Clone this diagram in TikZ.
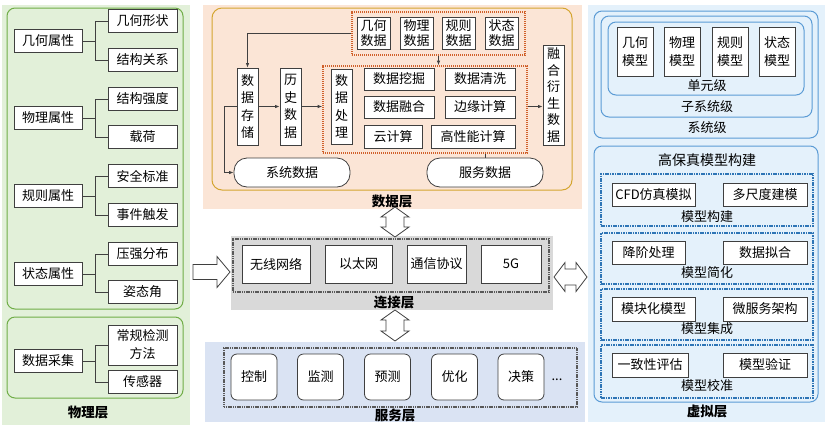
\documentclass[tikz,border=0pt]{standalone}
\usepackage{fontspec}
\setmainfont{Noto Sans CJK SC}
\usetikzlibrary{arrows.meta,calc}
\definecolor{boxc}{HTML}{3F3F3F}
\definecolor{wirec}{HTML}{404040}
\definecolor{greenbg}{HTML}{E2F0D9}
\definecolor{greenln}{HTML}{70AD47}
\definecolor{peachbg}{HTML}{FBE5D6}
\definecolor{goldln}{HTML}{D4A530}
\definecolor{orangeln}{HTML}{D0602A}
\definecolor{graybg}{HTML}{D9D9D9}
\definecolor{dotln}{HTML}{595959}
\definecolor{svcbg}{HTML}{DAE3F3}
\definecolor{vbg}{HTML}{E4F1FB}
\definecolor{blueln}{HTML}{5B9BD5}
\definecolor{bluedash}{HTML}{2E75B6}
\newcommand\fs{\fontsize{13}{15}\selectfont}
\newcommand\ftwo{\fontsize{13}{18}\selectfont}
\newcommand\fv{\fontsize{13}{17.5}\selectfont}
\newcommand\fvs{\fontsize{13}{16.5}\selectfont}
\newcommand\fb{\fontsize{13.5}{15}\selectfont\bfseries}
\newcommand\ft{\fontsize{14}{16}\selectfont}
\begin{document}
\begin{tikzpicture}[x=1pt,y=-1pt,
  bx/.style={draw=boxc,line width=0.8pt,fill=white,inner sep=0pt,font=\fs,align=center},
  bxtwo/.style={bx,font=\ftwo},
  vbx/.style={bx,font=\fv},
  rbx/.style={bx,rounded corners=6pt},
  pill/.style={bx,rounded corners=13pt},
  lay/.style={font=\fb,inner sep=0pt},
  lbl/.style={font=\fs,inner sep=0pt},
  cont/.style={inner sep=0pt},
  ogrp/.style={cont,draw=orangeln,line width=1.6pt,dash pattern=on 1.4pt off 0.6pt},
  ggrp/.style={cont,draw=dotln,line width=1.4pt,dash pattern=on 1.2pt off 0.6pt},
  bgrp/.style={cont,draw=bluedash,line width=1.2pt,dash pattern=on 1.6pt off 0.8pt},
  rbl/.style={draw=blueln,line width=1pt,rounded corners=8pt},
  rgr/.style={draw=greenln,line width=1pt,rounded corners=8pt},
  wire/.style={draw=wirec,line width=0.8pt},
  arr/.style={wire,-{Latex[length=4.5pt,width=3.5pt]}},
  blockar/.style={draw=boxc,line width=0.8pt,fill=white,line join=miter},
]
\fill[white] (0,0) rectangle (830,432);
\useasboundingbox (0,0) rectangle (830,432);

% ---------------- physical layer ----------------
\fill[greenbg] (2,5) rectangle (190,425);
\draw[rgr] (7,8) rectangle (183,309);
\draw[rgr] (7,317) rectangle (183,398);

\foreach \n/\t/\y in {ga/几何属性/41, wa/物理属性/118, ra/规则属性/196, sa/状态属性/274, da/数据采集/361}
  \node[bx,minimum width=68,minimum height=23] (\n) at (48,\y) {\t};

\foreach \n/\t/\y in {gx/几何形状/21, jg/结构关系/60, jq/结构强度/99, zh/载荷/137,
  aq/安全标准/176, sj/事件触发/215, yq/压强分布/254, zt/姿态角/292, cg/传感器/382}
  \node[bx,minimum width=69,minimum height=23] (\n) at (142.5,\y) {\t};
\node[bxtwo,minimum width=69,minimum height=40] (cj) at (142.5,345) {常规检测\\方法};

\draw[wire] (ga.east) -- ++(13,0) |- (gx.west);
\draw[wire] (ga.east) ++(13,0) |- (jg.west);
\draw[wire] (wa.east) -- ++(13,0) |- (jq.west);
\draw[wire] (wa.east) ++(13,0) |- (zh.west);
\draw[wire] (ra.east) -- ++(13,0) |- (aq.west);
\draw[wire] (ra.east) ++(13,0) |- (sj.west);
\draw[wire] (sa.east) -- ++(13,0) |- (yq.west);
\draw[wire] (sa.east) ++(13,0) |- (zt.west);
\draw[wire] (da.east) -- ++(13,0) |- (cj.west);
\draw[wire] (da.east) ++(13,0) |- (cg.west);
\node[lay] (wl) at (88,412) {物理层};

% ---------------- data layer ----------------
\fill[peachbg] (203,5) rectangle (582,209);
\draw[draw=goldln,line width=1pt,rounded corners=10pt] (212,8) rectangle (572,190);

\node[ogrp,minimum width=173,minimum height=43] (tg) at (438.5,33.5) {};
\node[bx,minimum width=33,minimum height=32] (jhd) at (373.5,33) {几何\\数据};
\node[bx,minimum width=33,minimum height=32] (wld) at (416.5,33) {物理\\数据};
\node[bx,minimum width=33,minimum height=32] (gzd) at (458.5,33) {规则\\数据};
\node[bx,minimum width=33,minimum height=32] (ztd) at (501.5,33) {状态\\数据};

\node[ogrp,minimum width=204,minimum height=87] (g2) at (425,109.5) {};
\node[vbx,minimum width=21,minimum height=75] (sjcl) at (341.5,106.5) {数\\据\\处\\理};
\node[bx,minimum width=70,minimum height=22] (wj) at (399,79) {数据挖掘};
\node[bx,minimum width=70,minimum height=22] (qx) at (480,79) {数据清洗};
\node[bx,minimum width=70,minimum height=22] (rh) at (399,107) {数据融合};
\node[bx,minimum width=70,minimum height=22] (by) at (480,107) {边缘计算};
\node[bx,minimum width=58,minimum height=23] (yj) at (393,136.5) {云计算};
\node[bx,minimum width=84,minimum height=23] (gx2) at (473,136.5) {高性能计算};

\node[vbx,minimum width=21,minimum height=77] (ds) at (247.5,106.5) {数\\据\\存\\储};
\node[vbx,minimum width=21,minimum height=77] (hs) at (290.5,106.5) {历\\史\\数\\据};
\node[bx,font=\fvs,minimum width=21,minimum height=100] (rs) at (553.5,95) {融\\合\\衍\\生\\数\\据};
\node[pill,minimum width=116,minimum height=29] (sys) at (292,172.5) {系统数据};
\node[pill,minimum width=116,minimum height=29] (fw) at (485,172.5) {服务数据};

\draw[arr] (tg.west) -| (ds.north);
\draw[arr] (tg.south) -- (tg.south |- g2.north);
\draw[arr] (ds.east) -- (hs.west);
\draw[arr] (hs.east) -- (hs.east -| g2.west);
\draw[arr] (ds.west) -- ++(-12,0) |- (sys.west);
\draw[wire] (g2.south -| fw.north) -- (fw.north);
\draw[arr] (hs.east -| g2.east) -- (hs.east -| rs.west);
\node[lay] (dl) at (392,201) {数据层};

% ---------------- connection layer ----------------
\fill[graybg] (231,236) rectangle (553,310);
\node[ggrp,minimum width=316,minimum height=53] (cg2) at (391,265.5) {};
\node[bx,minimum width=68,minimum height=38] (wx) at (276,264) {无线网络};
\node[bx,minimum width=67,minimum height=38] (ytw) at (358.5,264) {以太网};
\node[bx,minimum width=59,minimum height=38] (tx) at (436.5,264) {通信协议};
\node[bx,minimum width=60,minimum height=38] (g5) at (511,264) {5G};
\node[lay] (cl) at (394,302) {连接层};

% ---------------- service layer ----------------
\fill[svcbg] (205,342) rectangle (585,422);
\node[ggrp,minimum width=353,minimum height=59] (sg) at (400.5,377.5) {};
\node[rbx,minimum width=46,minimum height=46] (kz) at (254,377) {控制};
\node[rbx,minimum width=46,minimum height=46] (jc) at (320.5,377) {监测};
\node[rbx,minimum width=46,minimum height=46] (yc) at (387.5,377) {预测};
\node[rbx,minimum width=46,minimum height=46] (yh) at (454.5,377) {优化};
\node[rbx,minimum width=46,minimum height=46] (jcc) at (521,377) {决策};
\node[lbl] (dots) at (557,380) {...};
\node[lay] (sl) at (395,415) {服务层};

% ---------------- virtual layer ----------------
\fill[vbg] (588,5) rectangle (825,422);
\draw[rbl] (594,11) rectangle (818,138);
\draw[rbl] (601,16) rectangle (812,117);
\draw[rbl] (608,22) rectangle (804,95);
\node[bxtwo,minimum width=36,minimum height=49] (jhm) at (635,51.5) {几何\\模型};
\node[bxtwo,minimum width=36,minimum height=49] (wlm) at (682,51.5) {物理\\模型};
\node[bxtwo,minimum width=36,minimum height=49] (gzm) at (730,51.5) {规则\\模型};
\node[bxtwo,minimum width=36,minimum height=49] (ztm) at (777,51.5) {状态\\模型};
\node[lbl] (dyj) at (707,86) {单元级};
\node[lbl] (zxt) at (707,107) {子系统级};
\node[lbl] (xtj) at (707,128) {系统级};

\draw[rbl] (594,146) rectangle (818,402);
\node[lbl,font=\ft] (gbz) at (707,160) {高保真模型构建};
\node[bgrp,minimum width=212,minimum height=52] (m1) at (707,200) {};
\node[bgrp,minimum width=212,minimum height=51] (m2) at (707,258.5) {};
\node[bgrp,minimum width=212,minimum height=51] (m3) at (707,314.5) {};
\node[bgrp,minimum width=212,minimum height=53] (m4) at (707,371.5) {};
\node[bx,minimum width=83,minimum height=23] (cfd) at (653.5,194.5) {CFD仿真模拟};
\node[bx,minimum width=84,minimum height=23] (dcd) at (765,194.5) {多尺度建模};
\node[bx,minimum width=73,minimum height=23] (jj) at (648.5,252.5) {降阶处理};
\node[bx,minimum width=84,minimum height=23] (nh) at (765,252.5) {数据拟合};
\node[bx,minimum width=83,minimum height=24] (mk) at (653.5,309) {模块化模型};
\node[bx,minimum width=84,minimum height=24] (wfw) at (765,309) {微服务架构};
\node[bx,minimum width=76,minimum height=24] (yz) at (650,365) {一致性评估};
\node[bx,minimum width=84,minimum height=24] (yzm) at (765,365) {模型验证};
\node[lbl] (l1) at (707,217) {模型构建};
\node[lbl] (l2) at (707,273) {模型简化};
\node[lbl] (l3) at (707,329) {模型集成};
\node[lbl] (l4) at (707,386) {模型校准};
\node[lay] (vl) at (707,411) {虚拟层};

% ---------------- block arrows ----------------
\draw[blockar] (395,207) -- (409,217) -- (404,217) -- (404,227) -- (409,227) -- (395,237)
  -- (381,227) -- (386,227) -- (386,217) -- (381,217) -- cycle;
\draw[blockar] (395,310) -- (409,320) -- (404,320) -- (404,331) -- (409,331) -- (395,341)
  -- (381,331) -- (386,331) -- (386,320) -- (381,320) -- cycle;
\draw[blockar] (554,277) -- (565,262.5) -- (565,269) -- (576,269) -- (576,262.5) -- (587,277)
  -- (576,291.5) -- (576,285) -- (565,285) -- (565,291.5) -- cycle;
\draw[blockar] (193,264.5) -- (217,264.5) -- (217,256.5) -- (230,272) -- (217,287.5)
  -- (217,279.5) -- (193,279.5) -- cycle;
\end{tikzpicture}
\end{document}
